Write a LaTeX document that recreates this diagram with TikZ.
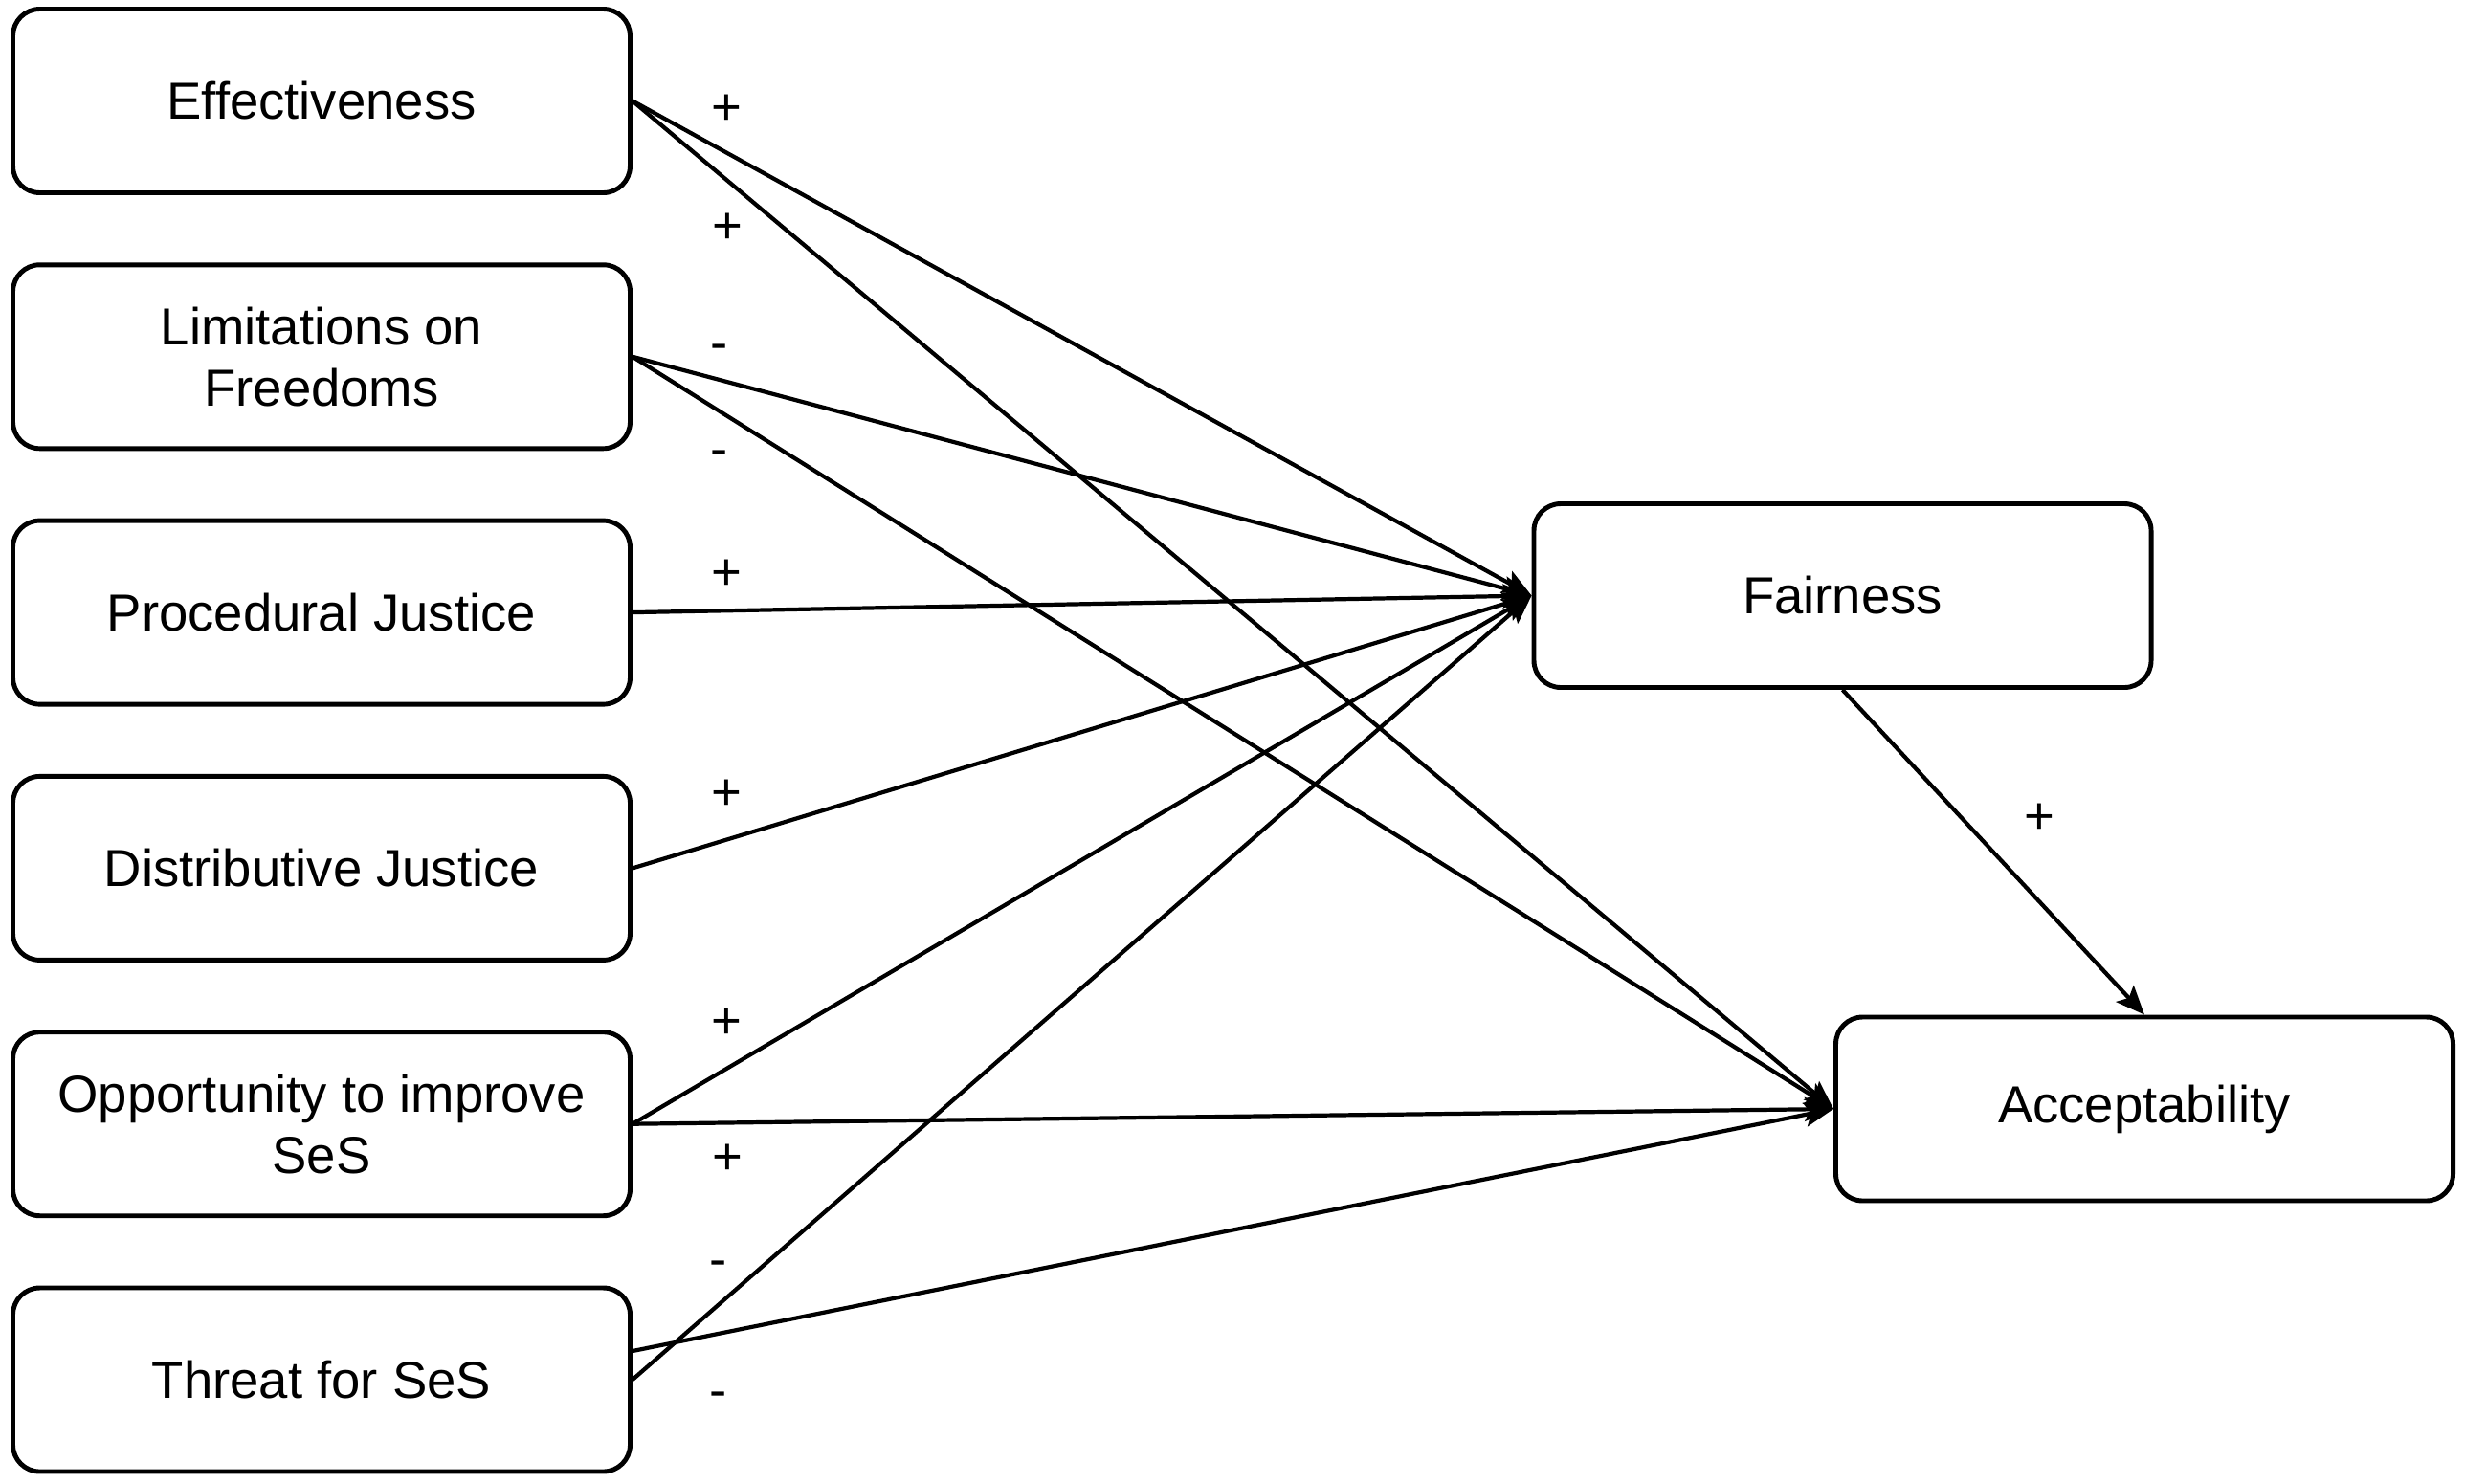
\documentclass[tikz,border=0pt]{standalone}
\usepackage{fontspec}
\setmainfont{Liberation Sans}
\usetikzlibrary{arrows.meta,positioning}

\begin{document}
\begin{tikzpicture}[-{Stealth[length=0.3cm, width=0.25cm, inset=0.06cm]}, node distance = 2.673cm, on grid, line width = 1.2pt, box/.style = {draw, rounded corners = 0.28cm, line width = 1.4pt, minimum width = 6.45cm, minimum height = 1.92cm, align = center, font = \fontsize{15.5}{18.2}\selectfont}, sign/.style = {inner sep = 0pt, text height = 0.66em, text depth = 0pt, font = \fontsize{15.5}{18.2}\selectfont}]
\useasboundingbox (0,0) rectangle (25.76,-15.5);

\node[box] (E) at (3.36,-1.055) {Effectiveness};
\node[box, below of=E] (L) {Limitations on\\Freedoms};
\node[box, below of=L] (P) {Procedural Justice};
\node[box, below of=P] (D) {Distributive Justice};
\node[box, below of=D] (O) {Opportunity to improve\\SeS};
\node[box, below of=O] (T) {Threat for SeS};
\node[box] (F) at (19.255,-6.225) {Fairness};
\node[box] (A) at (22.41,-11.59) {Acceptability};
\coordinate (T1) at ([yshift=0.3cm]T.east);

\path (E.east) edge node[sign, pos=0.105, yshift=0.41cm]{+} (F.west);
\path (E.east) edge node[sign, pos=0.079, yshift=-0.54cm]{+} (A.west);

\path (L.east) edge node[sign, pos=0.096, yshift=0.32cm]{-} (F.west);
\path (L.east) edge node[sign, pos=0.072, yshift=-0.46cm]{-} (A.west);

\path (P.east) edge node[sign, pos=0.105, yshift=0.33cm]{+} (F.west);
\path (D.east) edge node[sign, pos=0.105, yshift=0.43cm]{+} (F.west);

\path (O.east) edge node[sign, pos=0.105, yshift=0.43cm]{+} (F.west);
\path (O.east) edge node[sign, pos=0.079, yshift=-0.425cm]{+} (A.west);

\path (T.east) edge node[sign, pos=0.095, yshift=0.41cm]{-} (F.west);
\path (T1) edge node[sign, pos=0.071, yshift=-0.66cm]{-} (A.west);

\path (F.south) edge node[sign, pos=0.39, xshift=0.83cm, yshift=-0.06cm]{+} (A.north);
\end{tikzpicture}
\end{document}
